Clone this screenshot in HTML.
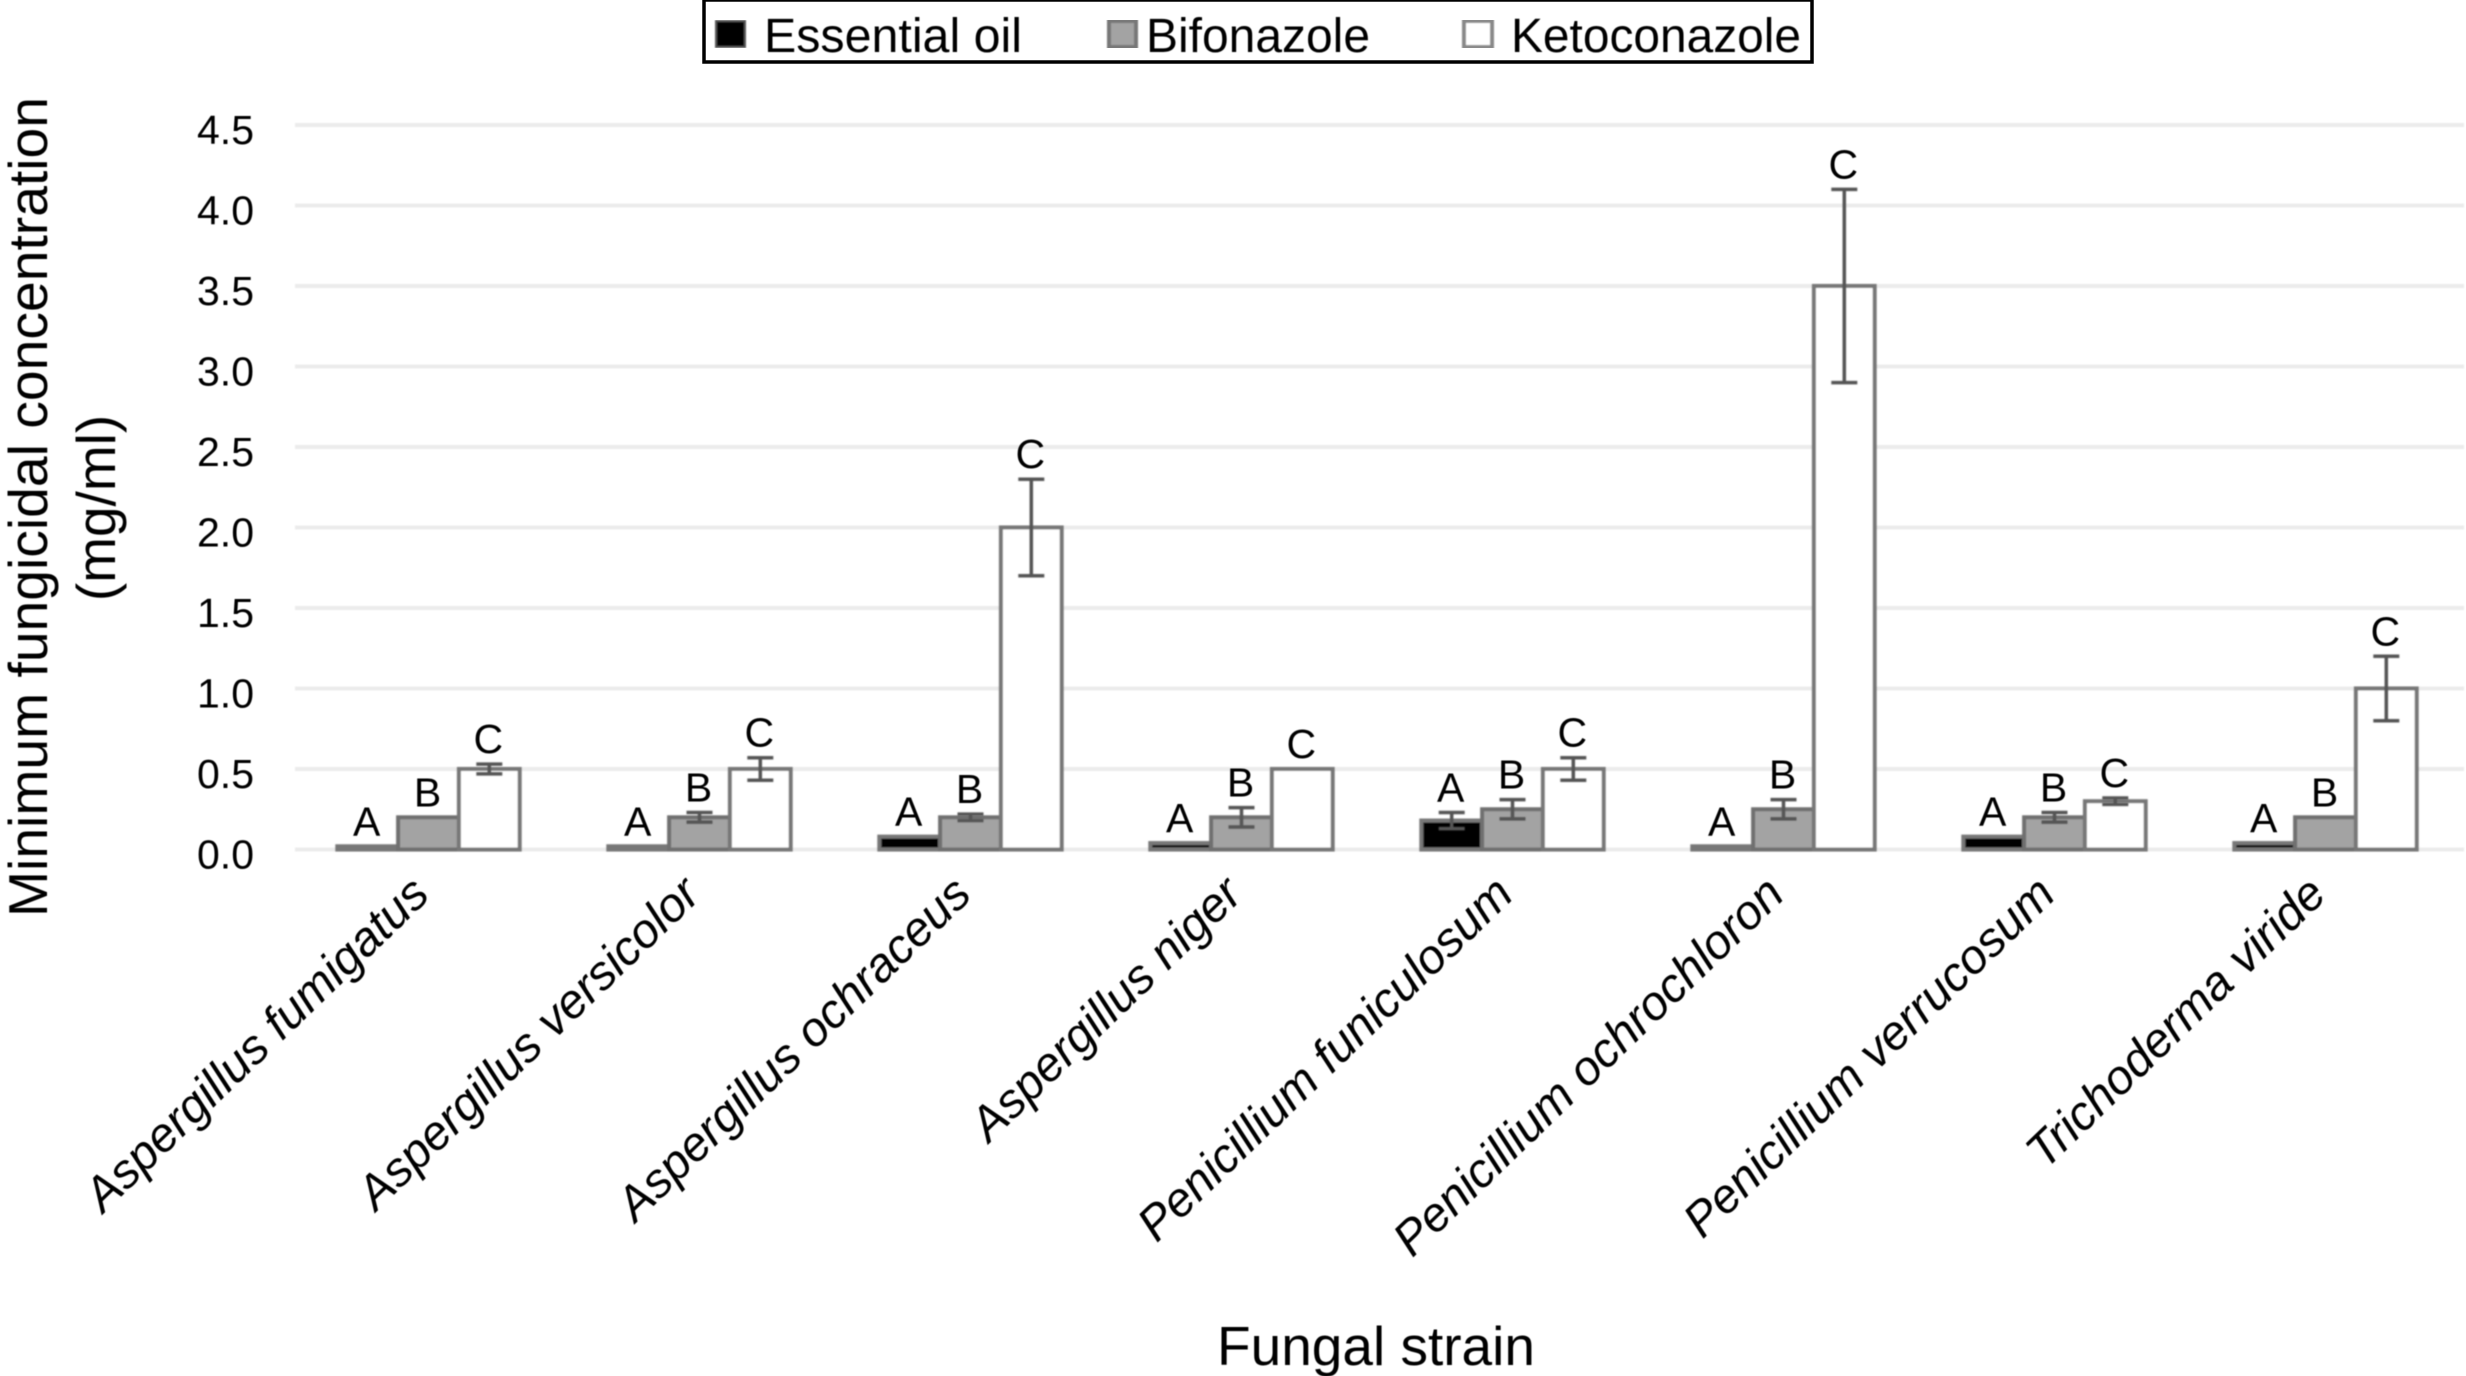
<!DOCTYPE html>
<html lang="en">
<head>
<meta charset="utf-8">
<title>Minimum fungicidal concentration by fungal strain</title>
<style>
  html, body { margin: 0; padding: 0; background: #fff; }
  svg { display: block; font-family: "Liberation Sans", Arial, sans-serif; }
</style>
</head>
<body>
<svg id="chart" xmlns="http://www.w3.org/2000/svg" width="2466" height="1376" viewBox="0 0 2466 1376">
  <defs>
    <filter id="soft" x="-2%" y="-2%" width="104%" height="104%"><feGaussianBlur stdDeviation="0.9"/></filter>
    <filter id="softText" x="-2%" y="-2%" width="104%" height="104%"><feGaussianBlur stdDeviation="0.4"/></filter>
  </defs>
  <rect x="0" y="0" width="2466" height="1376" fill="#ffffff"/>
  <g id="grid" filter="url(#soft)"></g>
  <g id="bars" filter="url(#soft)"></g>
  <g id="errs" filter="url(#soft)"></g>
  <g id="texts" filter="url(#softText)"></g>

  <g>
    <rect x="704" y="0" width="1108" height="62" fill="#fff" stroke="#000" stroke-width="3.5"/>
    <g filter="url(#soft)">
      <rect x="716" y="21" width="29" height="26" fill="#000" stroke="#555" stroke-width="2"/>
      <rect x="1109" y="21" width="27" height="26" fill="#a3a3a3" stroke="#777" stroke-width="4"/>
      <rect x="1464" y="21" width="28" height="26" fill="#fff" stroke="#888" stroke-width="4"/>
    </g>
    <g filter="url(#softText)" font-size="48" fill="#000">
      <text x="764" y="52" textLength="258" lengthAdjust="spacingAndGlyphs">Essential oil</text>
      <text x="1146" y="52" textLength="224" lengthAdjust="spacingAndGlyphs">Bifonazole</text>
      <text x="1511" y="52" textLength="290" lengthAdjust="spacingAndGlyphs">Ketoconazole</text>
    </g>
  </g>

  <g filter="url(#softText)" fill="#000">
    <text transform="translate(47,507) rotate(-90)" text-anchor="middle" font-size="55" textLength="820" lengthAdjust="spacingAndGlyphs">Minimum fungicidal concentration</text>
    <text transform="translate(115,508) rotate(-90)" text-anchor="middle" font-size="55">(mg/ml)</text>
    <text x="1376" y="1365" text-anchor="middle" font-size="55">Fungal strain</text>
  </g>
</svg>
<script>
const strains = ["Aspergillus fumigatus", "Aspergillus versicolor", "Aspergillus ochraceus", "Aspergillus niger", "Penicillium funiculosum", "Penicillium ochrochloron", "Penicillium verrucosum", "Trichoderma viride"];
const yTickLabels = ["0.0", "0.5", "1.0", "1.5", "2.0", "2.5", "3.0", "3.5", "4.0", "4.5"];
const seriesNames = ["essential-oil", "bifonazole", "ketoconazole"];
const seriesLetters = ["A", "B", "C"];
const essentialOil = [0.02, 0.02, 0.08, 0.04, 0.18, 0.02, 0.08, 0.04];
const bifonazole = [0.2, 0.2, 0.2, 0.2, 0.25, 0.25, 0.2, 0.2];
const ketoconazole = [0.5, 0.5, 2.0, 0.5, 0.5, 3.5, 0.3, 1.0];
const essentialOilErr = [0, 0, 0, 0, 0.05, 0, 0, 0];
const bifonazoleErr = [0, 0.03, 0.02, 0.06, 0.06, 0.06, 0.03, 0];
const ketoconazoleErr = [0.03, 0.07, 0.3, 0, 0.07, 0.6, 0.02, 0.2];

const seriesValues = [essentialOil, bifonazole, ketoconazole];
const seriesErrors = [essentialOilErr, bifonazoleErr, ketoconazoleErr];
const seriesFill = ["#000000", "#a3a3a3", "#ffffff"];
const seriesStroke = ["#777777", "#6f6f6f", "#777777"];

const NS = "http://www.w3.org/2000/svg";
const plotLeft = 293, bandWidth = 271, barWidth = 60.8;
const y0 = 849.5, pxPerUnit = 161;
function yScale(v) { return y0 - v * pxPerUnit; }
function groupCenter(i) { return plotLeft + bandWidth * (i + 0.5); }
function barLeft(i, s) { return groupCenter(i) + (s - 1.5) * barWidth; }
function make(tag, attrs, parent) {
  const el = document.createElementNS(NS, tag);
  for (const k in attrs) el.setAttribute(k, attrs[k]);
  parent.appendChild(el);
  return el;
}

const grid = document.getElementById("grid");
const bars = document.getElementById("bars");
const errs = document.getElementById("errs");
const texts = document.getElementById("texts");

yTickLabels.forEach(function (label) {
  const v = parseFloat(label);
  const line = make("line", { x1: plotLeft + 2, x2: 2464, y1: yScale(v), y2: yScale(v), stroke: "#ebebeb", "stroke-width": 4 }, grid);
  
  
  const tick = make("text", { x: 254, y: yScale(v) + 19, "text-anchor": "end", "font-size": 41, fill: "#000" }, texts);
  
  
  tick.textContent = label;
});

strains.forEach(function (name, i) {
  seriesValues.forEach(function (values, s) {
    const v = values[i], e = seriesErrors[s][i];
    const x = barLeft(i, s);
    const top = yScale(v);
    const bar = make("rect", { x: x, y: top, width: barWidth, height: y0 - top, fill: seriesFill[s], stroke: seriesStroke[s], "stroke-width": 4 }, bars);
    
    
    const cx = x + barWidth / 2;
    if (e > 0) {
      const hi = yScale(v + e), lo = yScale(v - e);
      const err = make("path", { d: "M" + (cx - 13) + " " + hi + "H" + (cx + 13) + "M" + cx + " " + hi + "V" + lo + "M" + (cx - 13) + " " + lo + "H" + (cx + 13), stroke: "#555555", "stroke-width": 3.5, fill: "none" }, errs);
      
      
    }
    const letter = make("text", { x: cx - 1, y: yScale(v + e) - 11, "text-anchor": "middle", "font-size": 41, fill: "#000" }, texts);
    
    
    letter.textContent = seriesLetters[s];
  });
  const ax = groupCenter(i) + 3, ay = 897;
  const cat = make("text", { transform: "translate(" + ax + "," + ay + ") rotate(-44)", "text-anchor": "end", "font-size": 48, "font-style": "italic", fill: "#000" }, texts);
  
  
  cat.textContent = name;
});
</script>
</body>
</html>
